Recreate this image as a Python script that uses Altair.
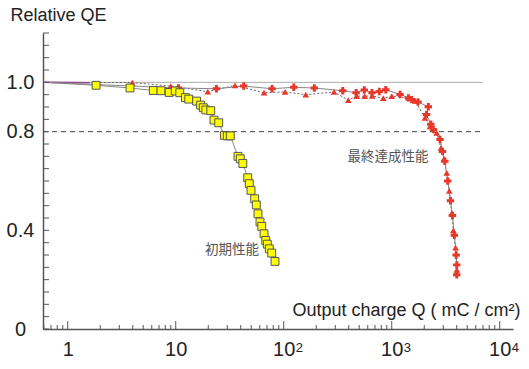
import altair as alt
import pandas as pd

# Initial performance (yellow squares)
init_q = [1.83, 3.77, 6.2, 7.3, 8.7, 9.9, 10.9, 12.3, 13.2, 15.6, 17.0, 18.0, 19.0, 21.1,
          22.6, 25.0, 28.2, 30.0, 32.0, 37.7, 39.6, 41.8, 46.4, 48.0, 49.8, 53.8, 55.7,
          57.8, 60.3, 62.6, 65.7, 68.1, 70.5, 73.5, 77.4, 83.0]
init_qe = [0.988, 0.977, 0.967, 0.966, 0.959, 0.965, 0.958, 0.938, 0.932, 0.924, 0.908,
           0.897, 0.888, 0.885, 0.847, 0.836, 0.785, 0.783, 0.783, 0.700, 0.690, 0.671,
           0.613, 0.589, 0.562, 0.528, 0.503, 0.467, 0.434, 0.416, 0.386, 0.359, 0.344,
           0.325, 0.308, 0.274]

# Final achieved performance, run A (red triangles, dotted line)
tri_q = [3.96, 9.0, 19.8, 35.4, 65.7, 103, 160, 292, 396, 474, 562, 660, 836, 1000,
         1430, 1650, 2030, 2260, 2610, 2860, 3050, 3230, 3410, 3600, 3720, 3900, 4000]
tri_qe = [0.999, 0.985, 0.962, 0.988, 0.958, 0.961, 0.950, 0.961, 0.928, 0.944, 0.944,
          0.945, 0.936, 0.944, 0.937, 0.925, 0.856, 0.822, 0.795, 0.734, 0.690, 0.633,
          0.560, 0.470, 0.400, 0.330, 0.240]

# Final achieved performance, run B (red crosses, solid line)
crs_q = [10.6, 23.8, 42.6, 78, 124, 192, 352, 468, 557, 657, 767, 880, 1194, 1426, 1530,
         1750, 2183, 2100, 2300, 2430, 2800, 2950, 3100, 3300, 3500, 3650, 3800, 3950, 4000, 4000]
crs_qe = [0.977, 0.974, 0.985, 0.974, 0.980, 0.977, 0.966, 0.958, 0.969, 0.958, 0.963,
          0.970, 0.951, 0.937, 0.930, 0.920, 0.901, 0.870, 0.830, 0.809, 0.768, 0.720,
          0.680, 0.600, 0.520, 0.460, 0.380, 0.300, 0.260, 0.220]

q_start = 0.6  # all runs start at relative QE 1.0
ref_end = 6900

x_major = [1, 10, 100, 1000, 10000]
x_minor = [round(m * 10.0 ** e, 4) for e in range(-1, 4) for m in range(2, 10)
           if 0.6 < m * 10.0 ** e < 13000]
y_ticks = [round(i * 0.05, 2) for i in range(0, 25)]
y_labels = [0, 0.4, 0.8, 1.0]
exp_vals = [100, 1000, 10000]
exp_text = ["2", "3", "4"]

W, H = 470, 296
FONT = "Liberation Sans"
CJK = "Noto Sans CJK JP"

xs = alt.Scale(type="log", domain=[0.59, 13270], nice=False)
ys = alt.Scale(domain=[0, 1.2], nice=False)


def line_df(qs, qes):
    return pd.DataFrame({"q": [q_start] + qs, "qe": [1.0] + qes, "i": list(range(len(qs) + 1))})


def pt_df(qs, qes):
    return pd.DataFrame({"q": qs, "qe": qes})


X = alt.X("q:Q", scale=xs, title="Output charge Q ( mC / cm²)",
          axis=alt.Axis(values=x_major, labelExpr="datum.value == 1 ? '1' : '10'"))
Y = alt.Y("qe:Q", scale=ys, title="Relative QE",
          axis=alt.Axis(values=y_labels,
                        labelExpr="datum.value == 0 ? '0' : format(datum.value, '.1f')"))

# exponent digits next to the "10" tick labels
exps = alt.Chart(pd.DataFrame({"q": exp_vals, "t": exp_text})).mark_text(
    font=FONT, fontSize=13, color="#222", align="left", baseline="alphabetic", dx=12
).encode(x=X, y=alt.value(H + 23), text="t:N")

# inward-pointing tick marks
x_major_ticks = alt.Chart(pd.DataFrame({"q": x_major})).mark_rule(color="#555", strokeWidth=1).encode(
    x=X, y=alt.value(H), y2=alt.value(H - 8))
x_minor_ticks = alt.Chart(pd.DataFrame({"q": x_minor})).mark_rule(color="#555", strokeWidth=1).encode(
    x=X, y=alt.value(H), y2=alt.value(H - 4))
y_tick_marks = alt.Chart(pd.DataFrame({"qe": y_ticks})).mark_rule(color="#555", strokeWidth=1).encode(
    y=Y, x=alt.value(0), x2=alt.value(6))

# reference levels at 1.0 (solid) and 0.8 (dashed)
ref_solid = alt.Chart(pd.DataFrame({"qe": [1.0], "q": [0.59], "q1": [ref_end]})).mark_rule(
    color="#aaa", strokeWidth=1).encode(y=Y, x=X, x2="q1:Q")
ref_dash = alt.Chart(pd.DataFrame({"qe": [0.8], "q": [0.59], "q1": [ref_end]})).mark_rule(
    color="#444", strokeWidth=1, strokeDash=[5, 4]).encode(y=Y, x=X, x2="q1:Q")

lead = alt.Chart(pd.DataFrame({"q": [0.59, 1.6], "qe": [1.0, 0.998], "i": [0, 1]})).mark_line(
    color="#b030b0", strokeWidth=1.5).encode(x=X, y=Y, order="i:Q")

tri_line = alt.Chart(line_df(tri_q, tri_qe)).mark_line(
    color="#666", strokeWidth=1, strokeDash=[2, 2]).encode(x=X, y=Y, order="i:Q")
crs_line = alt.Chart(line_df(crs_q, crs_qe)).mark_line(
    color="#888", strokeWidth=1).encode(x=X, y=Y, order="i:Q")
init_line = alt.Chart(line_df(init_q, init_qe)).mark_line(
    color="#888", strokeWidth=1).encode(x=X, y=Y, order="i:Q")

tri_pts = alt.Chart(pt_df(tri_q, tri_qe)).mark_point(
    shape="triangle-up", filled=True, color="#e8382a", size=45, opacity=1).encode(x=X, y=Y)
crs_pts = alt.Chart(pt_df(crs_q, crs_qe)).mark_point(
    shape="cross", filled=True, color="#e8382a", size=55, opacity=1).encode(x=X, y=Y)
init_pts = alt.Chart(pt_df(init_q, init_qe)).mark_square(
    fill="#ffff00", stroke="#555", strokeWidth=1, size=62, opacity=1).encode(x=X, y=Y)

labels = alt.Chart(pd.DataFrame({"q": [33.2, 925], "qe": [0.321, 0.699],
                                 "t": ["初期性能", "最終達成性能"]})).mark_text(
    font=CJK, fontSize=13.5, color="#555", align="center", baseline="middle"
).encode(x=X, y=Y, text="t:N")

chart = alt.layer(
    ref_solid, ref_dash, lead, tri_line, crs_line, init_line,
    tri_pts, crs_pts, init_pts, labels,
    x_minor_ticks, x_major_ticks, y_tick_marks, exps,
).properties(
    width=W, height=H, padding={"left": 43, "top": 33, "right": 16, "bottom": 40},
    autosize=alt.AutoSizeParams(type="none"),
).configure_view(stroke=None).configure_axis(
    ticks=False, grid=False, domainColor="#555", domainWidth=1.5,
    labelFont=FONT, labelFontSize=20, labelColor="#222", labelFlush=False,
    titleFont=FONT, titleFontSize=18, titleFontWeight="normal", titleColor="#222",
).configure_axisX(
    labelPadding=10, titleAlign="right", titleX=477, titleY=-10, titleBaseline="bottom",
).configure_axisY(
    labelPadding=23, labelAlign="center",
    titleAngle=0, titleAlign="left", titleBaseline="top", titleX=-33, titleY=-27,
)

chart.save("out.html", embed_options={"renderer": "svg", "actions": False})
